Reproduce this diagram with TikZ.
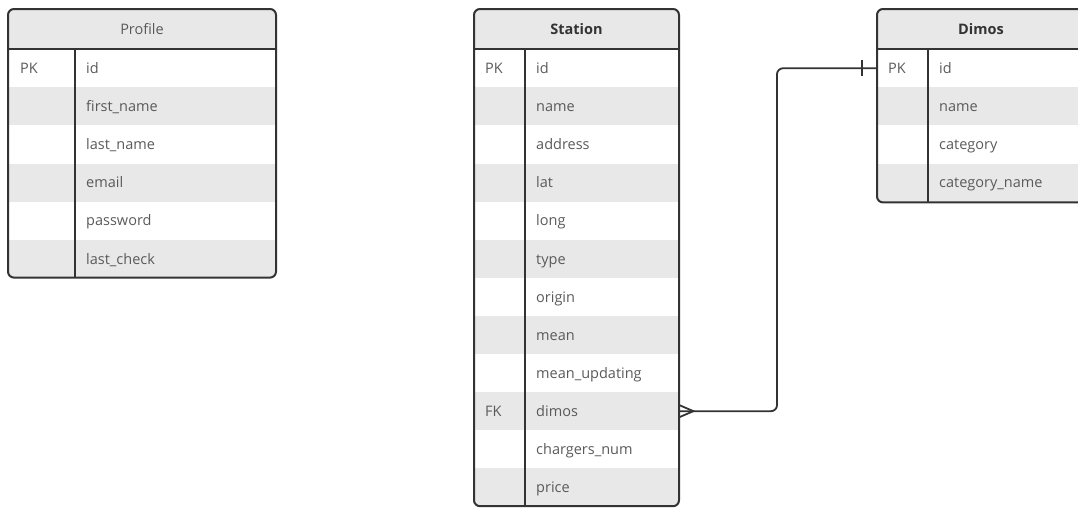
\documentclass[tikz,border=0pt]{standalone}
\usepackage{fontspec}
\setmainfont{Open Sans}
\definecolor{erline}{HTML}{333333}
\definecolor{ertext}{HTML}{5A5A5A}
\definecolor{erfill}{HTML}{E8E8E8}
\tikzset{
  plainrow/.style={minimum height=38.1pt, inner sep=0pt, anchor=north west},
  shadedrow/.style={plainrow, fill=erfill},
  fieldtext/.style={anchor=base west, inner sep=0pt, text=ertext, font=\fontsize{14.5}{17}\selectfont},
  headtext/.style={anchor=base, inner sep=0pt, text=erline, font=\fontsize{14.5}{17}\selectfont},
  frame/.style={draw=erline, line width=2pt, rounded corners=6pt},
  divline/.style={draw=erline, line width=2pt},
  conn/.style={draw=erline, line width=1.8pt},
}
\begin{document}
\begin{tikzpicture}[x=1pt, y=-1pt]
  \useasboundingbox (0,0) rectangle (1078,507);
  % Profile
  \begin{scope}
    \clip[rounded corners=6pt] (8,9) rectangle (276,277.6);
    \fill[erfill] (8,9) rectangle (276,49);
    \foreach \f [count=\i] in {id,first\_name,last\_name,email,password,last\_check} {
      \ifodd\i\relax \def\rs{plainrow}\else \def\rs{shadedrow}\fi
      \node[\rs, minimum width=268pt] (profile-\i) at (8,{49+(\i-1)*38.1}) {};
      \node[fieldtext] (profile-f\i) at (86,{49+(\i-0.5)*38.1+5.5}) {\f};
    }
  \end{scope}
  \draw[frame] (8,9) rectangle (276,277.6);
  \draw[divline] (8,49) -- (276,49);
  \draw[divline] (75,49) -- (75,277.6);
  \node[headtext, text=ertext] (profile-head) at (142,34.5) {Profile};
  \node[fieldtext] (profile-pk) at (20,{49+0.5*38.1+5.5}) {PK};
  % Station
  \begin{scope}
    \clip[rounded corners=6pt] (474,9) rectangle (679,506.2);
    \fill[erfill] (474,9) rectangle (679,49);
    \foreach \f [count=\i] in {id,name,address,lat,long,type,origin,mean,mean\_updating,dimos,chargers\_num,price} {
      \ifodd\i\relax \def\rs{plainrow}\else \def\rs{shadedrow}\fi
      \node[\rs, minimum width=205pt] (station-\i) at (474,{49+(\i-1)*38.1}) {};
      \node[fieldtext] (station-f\i) at (536,{49+(\i-0.5)*38.1+5.5}) {\f};
    }
  \end{scope}
  \draw[frame] (474,9) rectangle (679,506.2);
  \draw[divline] (474,49) -- (679,49);
  \draw[divline] (525,49) -- (525,506.2);
  \node[headtext, font=\fontsize{14.5}{17}\selectfont\bfseries] (station-head) at (576.5,34.5) {Station};
  \node[fieldtext] (station-pk) at (485,{49+0.5*38.1+5.5}) {PK};
  \node[fieldtext] (station-fk) at (485,{49+9.5*38.1+5.5}) {FK};
  % Dimos
  \begin{scope}
    \clip[rounded corners=6pt] (877,9) rectangle (1086,202.4);
    \fill[erfill] (877,9) rectangle (1086,49);
    \foreach \f [count=\i] in {id,name,category,category\_name} {
      \ifodd\i\relax \def\rs{plainrow}\else \def\rs{shadedrow}\fi
      \node[\rs, minimum width=209pt] (dimos-\i) at (877,{49+(\i-1)*38.1}) {};
      \node[fieldtext] (dimos-f\i) at (939,{49+(\i-0.5)*38.1+5.5}) {\f};
    }
  \end{scope}
  \draw[frame] (877,9) rectangle (1086,202.4);
  \draw[divline] (877,49) -- (1086,49);
  \draw[divline] (928,49) -- (928,202.4);
  \node[headtext, font=\fontsize{14.5}{17}\selectfont\bfseries] (dimos-head) at (981,34.5) {Dimos};
  \node[fieldtext] (dimos-pk) at (888,{49+0.5*38.1+5.5}) {PK};
  % relation
  \coordinate (bend) at (777,0);
  \draw[conn, rounded corners=6pt] (station-10.east) -| (bend |- dimos-1.west) -- (dimos-1.west);
  \draw[conn] (station-10.east) ++(0,-6) -- ++(14,6) -- ++(-14,6);
  \draw[conn] (dimos-1.west) ++(-15,-8) -- ++(0,16);
\end{tikzpicture}
\end{document}
